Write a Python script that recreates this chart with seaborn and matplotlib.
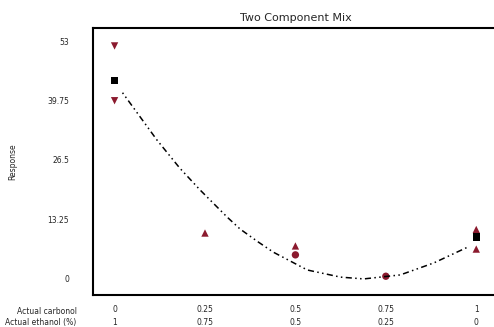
import numpy as np
import pandas as pd
import matplotlib
matplotlib.use("Agg")
import matplotlib.pyplot as plt
import seaborn as sns

# --- data ---
comp_a = [0, 0, 0, 0.25, 0.5, 0.5, 0.75, 1, 1, 1]
response = [52.1, 44.3, 39.8, 10.1, 7.2, 5.2, 0.4, 10.9, 9.2, 6.5]
point_kind = ["down", "square", "down", "up", "up", "dot", "dot", "up", "square", "up"]

# fitted curve, points
fit_x = [0.022, 0.117, 0.18, 0.236, 0.311, 0.347, 0.397, 0.439, 0.533, 0.625,
         0.689, 0.79, 0.883, 0.978]
fit_y = [41.6, 31.0, 24.7, 19.8, 13.7, 11.0, 8.1, 5.8, 1.8, 0.2,
         -0.2, 0.7, 3.4, 7.0]

x_ticks = [0, 0.25, 0.5, 0.75, 1]
row1_labels = ["0", "0.25", "0.5", "0.75", "1"]
row2_labels = ["1", "0.75", "0.5", "0.25", "0"]
y_ticks = [0, 13.25, 26.5, 39.75, 53]
y_labels = ["0", "13.25", "26.5", "39.75", "53"]

df = pd.DataFrame({"a": comp_a, "resp": response, "kind": point_kind})
fit = pd.DataFrame({"a": fit_x, "resp": fit_y})

sns.set_style("white")
plt.rcParams["font.family"] = ["DejaVu Sans"]

fig = plt.figure(figsize=(4.94, 3.27), dpi=100)
ax = fig.add_axes([0.188, 0.098, 0.82, 0.816])

sns.lineplot(data=fit, x="a", y="resp", ax=ax, color="black", lw=1.1,
             linestyle=(0, (1, 2.2, 1, 2.2, 4, 2.2)), sort=False)
red = "#8b1a2e"
sns.scatterplot(data=df, x="a", y="resp", hue="kind", style="kind", ax=ax,
                palette={"down": red, "up": red, "dot": red, "square": "black"},
                markers={"down": "v", "up": "^", "dot": "o", "square": "s"},
                s=28, edgecolor="none", legend=False)

ax.set_xlim(-0.06, 1.06)
ax.set_ylim(-3.8, 56.1)
ax.set_xticks(x_ticks)
ax.set_xticklabels([f"{a}\n{b}" for a, b in zip(row1_labels, row2_labels)],
                   fontsize=5.5, linespacing=1.6)
ax.set_yticks(y_ticks)
ax.set_yticklabels(y_labels, fontsize=5.5)
ax.tick_params(axis="x", length=3, width=1, pad=4, color="black")
ax.tick_params(axis="y", length=5, width=1, pad=12, color="black")
ax.set_xlabel("")
ax.set_ylabel("Response", fontsize=5.5, labelpad=22)
ax.set_title("Two Component Mix", fontsize=8, pad=5)

for side in ["left", "bottom", "top"]:
    ax.spines[side].set_color("black")
    ax.spines[side].set_linewidth(1.5)
ax.spines["right"].set_visible(False)

fig.text(0.155, 0.047, "Actual carbonol", fontsize=5.5, ha="right", va="center")
fig.text(0.155, 0.013, "Actual ethanol (%)", fontsize=5.5, ha="right", va="center")

fig.savefig("out.png", dpi=100)
